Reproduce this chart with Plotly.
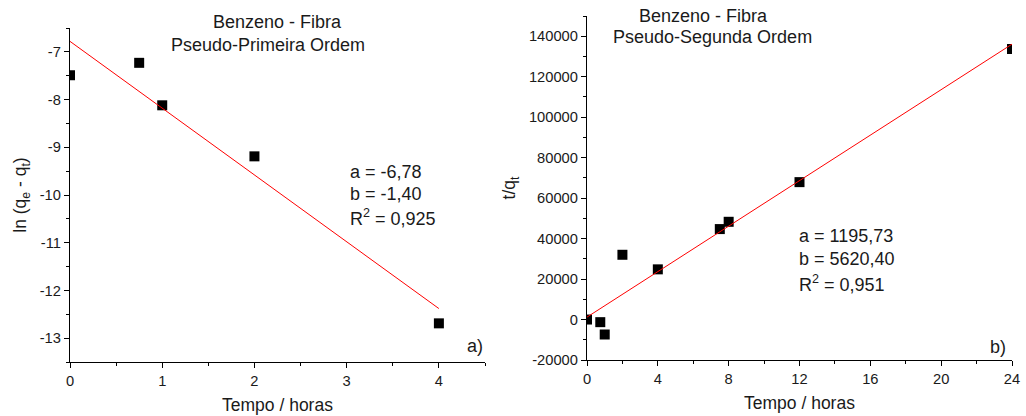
import plotly.graph_objects as go

# Pseudo-first order: ln(qe - qt) vs time
t1 = [0, 0.75, 1, 2, 4]
ln_qe_qt = [-7.49, -7.23, -8.12, -9.19, -12.69]
a1, b1 = -6.78, -1.40
r2_1 = "0,925"

# Pseudo-second order: t/qt vs time
t2 = [0, 0.75, 1, 2, 4, 7.5, 8, 12, 24]
t_over_qt = [0, -1300, -7400, 32000, 24800, 44700, 48300, 67900, 133700]
a2, b2 = 1195.73, 5620.40
r2_2 = "0,951"

x1_ticks = [0, 1, 2, 3, 4]
y1_ticks = [-13, -12, -11, -10, -9, -8, -7]
x2_ticks = [0, 4, 8, 12, 16, 20, 24]
y2_ticks = [-20000, 0, 20000, 40000, 60000, 80000, 100000, 120000, 140000]

W, H = 1026, 416
FONT = "Liberation Sans, Arial, sans-serif"
INK = "#1a1a1a"


def px(x, y):
    return x / W, 1 - y / H


def fmt(v):
    return f"{v:.2f}".replace(".", ",")


fig = go.Figure()

fig.add_trace(go.Scatter(
    x=t1, y=ln_qe_qt, mode="markers",
    marker=dict(symbol="square", size=10, color="black"),
    xaxis="x", yaxis="y", showlegend=False))
fit1_x = [t1[0], t1[-1]]
fig.add_trace(go.Scatter(
    x=fit1_x, y=[a1 + b1 * x for x in fit1_x], mode="lines",
    line=dict(color="red", width=1),
    xaxis="x", yaxis="y", showlegend=False))

fig.add_trace(go.Scatter(
    x=t2, y=t_over_qt, mode="markers",
    marker=dict(symbol="square", size=10, color="black"),
    xaxis="x2", yaxis="y2", showlegend=False))
fit2_x = [t2[0], t2[-1]]
fig.add_trace(go.Scatter(
    x=fit2_x, y=[a2 + b2 * x for x in fit2_x], mode="lines",
    line=dict(color="red", width=1),
    xaxis="x2", yaxis="y2", showlegend=False))

axis_common = dict(
    showline=True, linecolor="black", linewidth=1.3, mirror=False,
    showgrid=False, zeroline=False, ticks="outside", ticklen=5,
    tickwidth=1.2, tickcolor="black", automargin=False,
    tickfont=dict(family=FONT, size=14.7, color=INK),
    title_font=dict(family=FONT, size=17.5, color=INK),
)

fig.update_layout(
    width=W, height=H, autosize=False,
    margin=dict(l=0, r=0, t=0, b=0, pad=0),
    paper_bgcolor="white", plot_bgcolor="white",
    font=dict(family=FONT, color=INK),
    xaxis=dict(axis_common, domain=[70 / W, 485 / W], range=[0, 4.5],
               tickvals=x1_ticks, ticktext=[str(v) for v in x1_ticks],
               minor=dict(dtick=0.5, ticks="outside", ticklen=3,
                          tickcolor="black", tickwidth=1),
               title=dict(text="Tempo / horas", standoff=10),
               anchor="y"),
    yaxis=dict(axis_common, domain=[1 - 362 / H, 1 - 28 / H], range=[-13.5, -6.5],
               tickvals=y1_ticks, ticktext=[str(v) for v in y1_ticks],
               minor=dict(dtick=0.5, ticks="outside", ticklen=3,
                          tickcolor="black", tickwidth=1),
               title=dict(text="ln (q<sub>e</sub> - q<sub>t</sub>)", standoff=8),
               anchor="x"),
    xaxis2=dict(axis_common, domain=[587 / W, 1012 / W], range=[0, 24],
                tickvals=x2_ticks, ticktext=[str(v) for v in x2_ticks],
                minor=dict(dtick=2, ticks="outside", ticklen=3,
                           tickcolor="black", tickwidth=1),
                title=dict(text="Tempo / horas", standoff=10),
                anchor="y2"),
    yaxis2=dict(axis_common, domain=[1 - 360 / H, 1 - 16 / H], range=[-20000, 150000],
                tickvals=y2_ticks, ticktext=[str(v) for v in y2_ticks],
                minor=dict(dtick=10000, ticks="outside", ticklen=3,
                           tickcolor="black", tickwidth=1),
                title=dict(text="t/q<sub>t</sub>", standoff=8),
                anchor="x2"),
)

annotations = []


def add_text(text, x, y, size=18, xanchor="center"):
    ax, ay = px(x, y)
    annotations.append(dict(
        text=text, x=ax, y=ay, xref="paper", yref="paper",
        xanchor=xanchor, yanchor="middle", showarrow=False,
        font=dict(family=FONT, size=size, color=INK)))


# Panel titles
add_text("Benzeno - Fibra", 277, 22)
add_text("Pseudo-Primeira Ordem", 268, 45)
add_text("Benzeno - Fibra", 703, 16)
add_text("Pseudo-Segunda Ordem", 712, 37)

# Fit parameters
add_text(f"a = {fmt(a1)}", 348, 172, xanchor="left")
add_text(f"b = {fmt(b1)}", 348, 194, xanchor="left")
add_text(f"R<sup>2</sup> = {r2_1}", 348, 217, xanchor="left")
add_text(f"a = {fmt(a2)}", 797, 236, xanchor="left")
add_text(f"b = {fmt(b2)}", 797, 259, xanchor="left")
add_text(f"R<sup>2</sup> = {r2_2}", 797, 283, xanchor="left")

# Panel labels
add_text("a)", 475, 346)
add_text("b)", 998, 347)

fig.update_layout(annotations=annotations)

fig.write_html("out.html")
